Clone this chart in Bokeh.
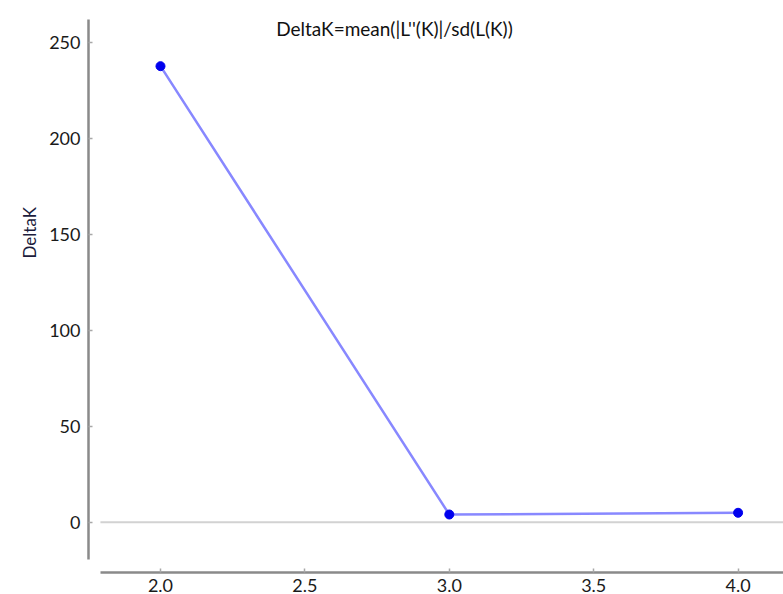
from bokeh.plotting import figure
from bokeh.models import (Range1d, LinearAxis, Label, FixedTicker, Title,
                          BoxAnnotation, NumeralTickFormatter)
from bokeh.embed import file_html
from bokeh.resources import INLINE

# data
K = [2.0, 3.0, 4.0]
delta_k = [237.5, 4.0, 4.9]
x_ticks = [2.0, 2.5, 3.0, 3.5, 4.0]
y_ticks = [0, 50, 100, 150, 200, 250]
title_text = "DeltaK=mean(|L''(K)|/sd(L(K))"
y_label = "DeltaK"

FONT = "Lato"

X0, X1 = 1.7507, 4.1572
Y0, Y1 = -26.2, 271.7

p = figure(width=783, height=594, output_backend="svg", toolbar_location=None,
           x_range=Range1d(X0, X1), y_range=Range1d(Y0, Y1),
           x_axis_location=None, y_axis_location=None,
           min_border_left=88, min_border_right=0, min_border_top=0, min_border_bottom=22)
p.outline_line_color = None
p.xgrid.visible = False
p.ygrid.visible = False
p.background_fill_color = "white"

def style_axis(ax):
    ax.axis_line_color = "#8a8a8a"
    ax.axis_line_width = 2.5
    ax.major_tick_in = 4
    ax.major_tick_out = 0
    ax.major_tick_line_color = "#a8a8a8"
    ax.major_tick_line_width = 1.5
    ax.minor_tick_line_color = None
    ax.major_label_text_font = FONT
    ax.major_label_text_font_size = "18px"
    ax.major_label_text_color = "#1a1a1a"

yax = LinearAxis(ticker=FixedTicker(ticks=y_ticks), bounds=(-19.4, 261.7))
style_axis(yax)
yax.major_label_standoff = 8
p.add_layout(yax, "left")

xax = LinearAxis(ticker=FixedTicker(ticks=x_ticks), bounds=(1.792, X1),
                 formatter=NumeralTickFormatter(format="0.0"))
style_axis(xax)
xax.major_label_standoff = 6
xax.major_label_text_line_height = 0.5
p.add_layout(xax, "below")

# y axis title, placed like the reference (above centre of the axis)
p.add_layout(Title(text=y_label, align="left", offset=314, standoff=14,
                   text_font=FONT, text_font_size="17px", text_font_style="normal",
                   text_color="#1c1c3c"), "left")

# zero line (thin band at y = 0)
p.add_layout(BoxAnnotation(left=1.792, right=X1, bottom=-0.55, top=0.55,
                           fill_color="#d2d2d2", fill_alpha=1, line_color=None))

# data
p.line(K, delta_k, line_color="#7b7bff", line_width=2.5, line_alpha=0.9)
p.scatter(K, delta_k, size=9, fill_color="#0000ee", line_color="#0000ee")

# chart title
p.add_layout(Label(x=2.81, y=257.1, text=title_text, text_font=FONT, text_font_size="19px",
                   text_align="center", text_baseline="alphabetic", text_color="#111111"))

open("out.html", "w").write(file_html(p, INLINE))
